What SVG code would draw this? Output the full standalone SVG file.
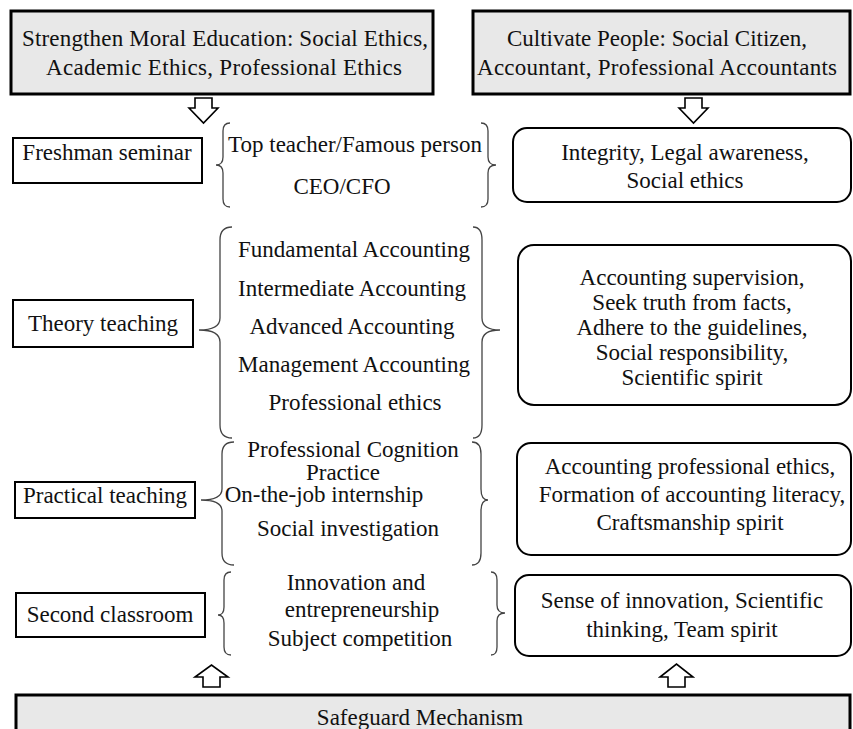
<svg xmlns="http://www.w3.org/2000/svg" width="853" height="729" viewBox="0 0 853 729">
<style>
.t text{font-family:'Liberation Serif','DejaVu Serif',serif;font-size:23px;fill:#111;text-anchor:middle}
.head{fill:#e8e8e8;stroke:#000;stroke-width:3}
.lbox{fill:#fff;stroke:#000;stroke-width:2}
.rbox{fill:#fff;stroke:#000;stroke-width:2}
.brace{fill:none;stroke:#444;stroke-width:1.3}
.arrow{fill:#fff;stroke:#000;stroke-width:1.6;stroke-linejoin:miter}
</style>
<rect width="853" height="729" fill="#fff"/>
<g class="t" font-family="Liberation Serif, serif" font-size="23" text-anchor="middle">
<g id="moral">
<rect class="head" x="11" y="11" width="422" height="83"/>
<text x="225" y="46" textLength="406" lengthAdjust="spacing">Strengthen Moral Education: Social Ethics,</text>
<text x="224" y="75" textLength="356" lengthAdjust="spacing">Academic Ethics, Professional Ethics</text>
</g>
<g id="cultivate">
<rect class="head" x="473" y="11" width="377" height="83"/>
<text x="657" y="46" textLength="300" lengthAdjust="spacing">Cultivate People: Social Citizen,</text>
<text x="657" y="75" textLength="360" lengthAdjust="spacing">Accountant, Professional Accountants</text>
</g>
<g id="freshman">
<rect class="lbox" x="13" y="138" width="189" height="45"/>
<text x="107" y="160">Freshman seminar</text>
</g>
<g id="freshman-items">
<text x="355" y="152">Top teacher/Famous person</text>
<text x="342" y="194">CEO/CFO</text>
</g>
<g id="freshman-goals">
<rect class="rbox" x="513" y="128" width="338" height="74" rx="14"/>
<text x="685" y="160">Integrity, Legal awareness,</text>
<text x="685" y="188">Social ethics</text>
</g>
<g id="theory">
<rect class="lbox" x="13" y="300" width="180" height="47"/>
<text x="103" y="331">Theory teaching</text>
</g>
<g id="theory-items">
<text x="354" y="257">Fundamental Accounting</text>
<text x="352" y="296">Intermediate Accounting</text>
<text x="352" y="334">Advanced Accounting</text>
<text x="354" y="372">Management Accounting</text>
<text x="355" y="410">Professional ethics</text>
</g>
<g id="theory-goals">
<rect class="rbox" x="518" y="245" width="333" height="160" rx="16"/>
<text x="692" y="285">Accounting supervision,</text>
<text x="692" y="310">Seek truth from facts,</text>
<text x="692" y="335">Adhere to the guidelines,</text>
<text x="692" y="360">Social responsibility,</text>
<text x="692" y="385">Scientific spirit</text>
</g>
<g id="practical">
<rect class="lbox" x="15" y="482" width="180" height="36"/>
<text x="105" y="503">Practical teaching</text>
</g>
<g id="practical-items">
<text x="353" y="457">Professional Cognition</text>
<text x="343" y="480">Practice</text>
<text x="324" y="502">On-the-job internship</text>
<text x="348" y="536">Social investigation</text>
</g>
<g id="practical-goals">
<rect class="rbox" x="517" y="443" width="334" height="112" rx="14"/>
<text x="690" y="474">Accounting professional ethics,</text>
<text x="692" y="502">Formation of accounting literacy,</text>
<text x="690" y="530">Craftsmanship spirit</text>
</g>
<g id="second">
<rect class="lbox" x="16" y="593" width="189" height="44"/>
<text x="110" y="622">Second classroom</text>
</g>
<g id="second-items">
<text x="356" y="590">Innovation and</text>
<text x="362" y="617">entrepreneurship</text>
<text x="360" y="646">Subject competition</text>
</g>
<g id="second-goals">
<rect class="rbox" x="515" y="575" width="336" height="81" rx="14"/>
<text x="682" y="608">Sense of innovation, Scientific</text>
<text x="682" y="637">thinking, Team spirit</text>
</g>
<g id="safeguard">
<rect class="head" x="16" y="695" width="834" height="40"/>
<text x="420" y="725">Safeguard Mechanism</text>
</g>
</g>
<g id="connectors">
<path class="arrow" d="M195,98 H212 V108 H218 L203.5,123 L189,108 H195 Z"/>
<path class="arrow" d="M685,98 H702 V108 H708 L693.5,123 L679,108 H685 Z"/>
<path class="arrow" d="M203,687 H220 V677 H228 L211.5,665 L195,677 H203 Z"/>
<path class="arrow" d="M668,687 H685 V677 H693 L676.5,664 L660,677 H668 Z"/>
<path class="brace" d="M230,123 Q223,123 223,131 V157 Q223,165 216,165 Q223,165 223,173 V199 Q223,207 230,207"/>
<path class="brace" d="M481,123 Q488,123 488,131 V157 Q488,165 496,165 Q488,165 488,173 V199 Q488,207 481,207"/>
<path class="brace" d="M232,227 Q220,227 220,240 V318 Q220,330 199,330 Q220,330 220,342 V425 Q220,438 232,438"/>
<path class="brace" d="M473,227 Q482,227 482,240 V318 Q482,330 500,330 Q482,330 482,342 V425 Q482,438 473,438"/>
<path class="brace" d="M234,442 Q222,442 222,454 V489 Q222,500 201,500 Q222,500 222,511 V553 Q222,565 234,565"/>
<path class="brace" d="M472,442 Q481,442 481,454 V489 Q481,500 488,500 Q481,500 481,511 V553 Q481,565 472,565"/>
<path class="brace" d="M231,572 Q224,572 224,580 V607 Q224,615 218,615 Q224,615 224,623 V647 Q224,655 231,655"/>
<path class="brace" d="M491,572 Q497,572 497,580 V605 Q497,613 505,613 Q497,613 497,621 V647 Q497,655 491,655"/>
</g>
</svg>
